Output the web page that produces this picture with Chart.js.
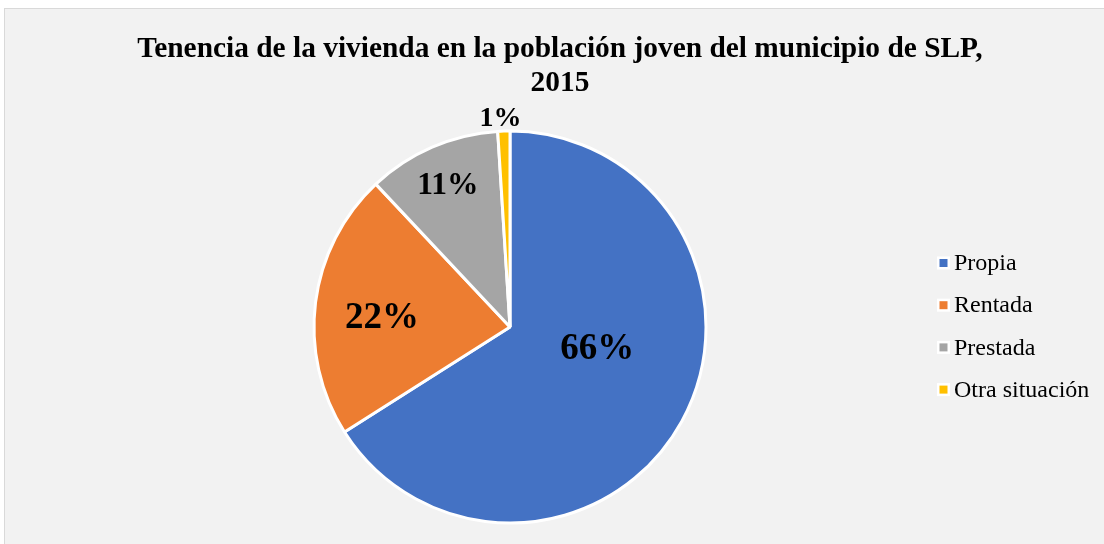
<!DOCTYPE html>
<html lang="es">
<head>
<meta charset="utf-8">
<title>Tenencia de la vivienda, SLP 2015</title>
<script src="https://cdn.jsdelivr.net/npm/chart.js@4.4.1/dist/chart.umd.min.js"></script>
<style>
  html, body { margin: 0; padding: 0; background: #ffffff; overflow: hidden; }
  #frame {
    position: absolute; left: 4px; top: 8px;
    width: 1110px; height: 540px;
    border: 1px solid #d9d9d9; background: #f2f2f2; overflow: hidden;
  }
  #chart { display: block; }
</style>
</head>
<body>
<div id="frame"><canvas id="chart" width="1110" height="535"></canvas></div>
<script>
// Tenencia de la vivienda (porcentaje de la población joven)
const categories = ['Propia', 'Rentada', 'Prestada', 'Otra situación'];
const shares = [66, 22, 11, 1];
const sliceColors = ['#4472C4', '#ED7D31', '#A5A5A5', '#FFC000'];
const titleLines = ['Tenencia de la vivienda en la población joven del municipio de SLP,', '2015'];

const SERIF = "'Liberation Serif', 'Times New Roman', serif";

// Where each percentage label sits: fraction of the radius and an angular nudge (degrees)
const labelPlacement = [
  { r: 0.457, shift: -16, size: 37 },
  { r: 0.655, shift: -2.3, size: 37 },
  { r: 0.797, shift: 0, size: 31.5 },
  { r: 1.072, shift: -0.8, size: 28 }
];

// Two-line bold title centred over the whole frame
const chartHeading = {
  id: 'chartHeading',
  afterDraw(chart) {
    const ctx = chart.ctx;
    ctx.save();
    ctx.fillStyle = '#000000';
    ctx.font = 'bold 29.4px ' + SERIF;
    ctx.textAlign = 'center';
    ctx.textBaseline = 'alphabetic';
    const cx = chart.width / 2;
    titleLines.forEach((line, i) => ctx.fillText(line, cx, 48 + i * 34));
    ctx.restore();
  }
};

const sliceLabels = {
  id: 'sliceLabels',
  afterDatasetsDraw(chart) {
    const ctx = chart.ctx;
    const meta = chart.getDatasetMeta(0);
    const data = chart.data.datasets[0].data;
    const total = data.reduce((a, b) => a + b, 0);
    ctx.save();
    ctx.fillStyle = '#000000';
    ctx.textAlign = 'center';
    ctx.textBaseline = 'alphabetic';
    meta.data.forEach((arc, i) => {
      const p = labelPlacement[i];
      const mid = (arc.startAngle + arc.endAngle) / 2 + p.shift * Math.PI / 180;
      const rr = arc.outerRadius * p.r;
      const x = arc.x + Math.cos(mid) * rr;
      const y = arc.y + Math.sin(mid) * rr;
      ctx.font = 'bold ' + p.size + 'px ' + SERIF;
      const pct = Math.round(data[i] / total * 100) + '%';
      ctx.fillText(pct, x, y + p.size * 0.33);
    });
    ctx.restore();
  }
};

const sideLegend = {
  id: 'sideLegend',
  afterDraw(chart) {
    const ctx = chart.ctx;
    const x0 = 932, y0 = 254, step = 42.2;
    ctx.save();
    ctx.font = '24px ' + SERIF;
    ctx.textAlign = 'left';
    ctx.textBaseline = 'middle';
    chart.data.labels.forEach((label, i) => {
      const cy = y0 + i * step;
      ctx.fillStyle = '#ffffff';
      ctx.fillRect(x0, cy - 6.5, 13, 13);
      ctx.fillStyle = chart.data.datasets[0].backgroundColor[i];
      ctx.fillRect(x0 + 2.5, cy - 4, 8, 8);
      ctx.fillStyle = '#000000';
      ctx.fillText(label, x0 + 17, cy + 1);
    });
    ctx.restore();
  }
};

new Chart(document.getElementById('chart'), {
  type: 'pie',
  data: {
    labels: categories,
    datasets: [{
      data: shares,
      backgroundColor: sliceColors,
      borderColor: '#ffffff',
      borderWidth: 3
    }]
  },
  options: {
    responsive: false,
    devicePixelRatio: 1,
    animation: false,
    events: [],
    layout: { padding: { left: 307.5, right: 407.5, top: 120.5, bottom: 19.5 } },
    plugins: {
      legend: { display: false },
      tooltip: { enabled: false },
      title: { display: false }
    }
  },
  plugins: [sliceLabels, sideLegend, chartHeading]
});
</script>
</body>
</html>
